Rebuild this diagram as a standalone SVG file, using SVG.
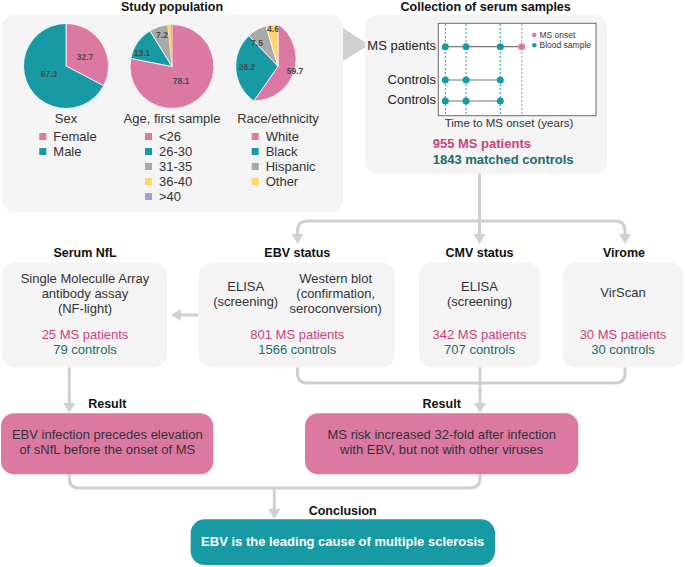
<svg xmlns="http://www.w3.org/2000/svg" width="685" height="567" viewBox="0 0 685 567">
<defs>
<style>
text{font-family:"Liberation Sans",Arial,sans-serif;fill:#222;}
.t{font-size:12.5px;font-weight:bold;text-anchor:middle;fill:#111;}
.b{font-size:13px;text-anchor:middle;fill:#333;}
.l{font-size:13px;fill:#333;}
.r{font-size:13px;text-anchor:end;fill:#222;}
.pk{fill:#c9437c;}
.tl{fill:#1d6b6c;}
.pl{font-size:8.5px;font-weight:bold;text-anchor:middle;fill:#4a4a4a;}
.sm{font-size:8.5px;fill:#333;}
.panel{fill:#f4f4f4;}
.res{fill:#dc79a3;}
.cP{fill:#dc79a3;}
.cT{fill:#179aa3;}
.cG{fill:#a9a9a9;}
.cY{fill:#fdd66b;}
.cV{fill:#9ea2d4;}
.sl{stroke:#fff;stroke-width:0.8;}
.con{fill:none;stroke:#d0d0d0;stroke-width:3;}
.dT{stroke:#179aa3;stroke-width:1;stroke-dasharray:2 2;}
.dP{stroke:#dc79a3;stroke-width:1;stroke-dasharray:2 2;}
</style>
<marker id="ah" markerUnits="userSpaceOnUse" markerWidth="12" markerHeight="12" viewBox="0 0 10 12" refX="1" refY="6" orient="auto">
<path d="M0,0 L10,6 L0,12 z" fill="#d0d0d0"/>
</marker>
</defs>
<rect width="685" height="567" fill="#fff"/>

<g id="connectors">
<polygon points="343,28 369,45 343,61" fill="#d0d0d0"/>
<path class="con" d="M479.5,174 V235" marker-end="url(#ah)"/>
<path class="con" d="M479.5,221 H307.5 Q297.5,221 297.5,231 V235" marker-end="url(#ah)"/>
<path class="con" d="M479.5,221 H615 Q625,221 625,231 V235" marker-end="url(#ah)"/>
<path class="con" d="M198,315 H180" marker-end="url(#ah)"/>
<path class="con" d="M69.3,367 V404" marker-end="url(#ah)"/>
<path class="con" d="M297.5,367 V373 Q297.5,383 307.5,383 H615 Q625,383 625,373 V367"/>
<path class="con" d="M480,367 V404" marker-end="url(#ah)"/>
<path class="con" d="M69.3,474 V478 Q69.3,488 79.3,488 H470 Q480,488 480,478 V474"/>
<path class="con" d="M274.3,488 V510" marker-end="url(#ah)"/>
</g>

<g id="study-population">
<text class="t" x="172" y="11">Study population</text>
<rect class="panel" x="2" y="15" width="341" height="197" rx="13"/>
<g id="pie-sex">
<path class="cP sl" d="M66,66 L66,23.5 A42.5,42.5 0 0 1 103.63,85.77 Z"/>
<path class="cT sl" d="M66,66 L103.63,85.77 A42.5,42.5 0 1 1 66,23.5 Z"/>
<text class="pl" x="85" y="60">32.7</text>
<text class="pl" x="49" y="77">67.3</text>
<text class="b" x="66" y="122.5">Sex</text>
<rect class="cP" x="39.3" y="133" width="7" height="7"/>
<text class="l" x="53.3" y="141">Female</text>
<rect class="cT" x="39.3" y="148" width="7" height="7"/>
<text class="l" x="53.3" y="156">Male</text>
</g>
<g id="pie-age">
<path class="cP sl" d="M172,66.5 L172,24.5 A42,42 0 1 1 130.79,58.37 Z"/>
<path class="cT sl" d="M172,66.5 L130.79,58.37 A42,42 0 0 1 149.95,30.75 Z"/>
<path class="cG sl" d="M172,66.5 L149.95,30.75 A42,42 0 0 1 167.78,24.71 Z"/>
<path class="cY" d="M172,66.5 L167.78,24.71 A42,42 0 0 1 171.21,24.51 Z"/>
<path class="cV" d="M172,66.5 L171.21,24.51 A42,42 0 0 1 172,24.5 Z"/>
<text class="pl" x="181" y="84">78.1</text>
<text class="pl" x="142" y="56">13.1</text>
<text class="pl" x="162" y="38">7.2</text>
<text class="b" x="172" y="122.5">Age, first sample</text>
<rect class="cP" x="145" y="133" width="7" height="7"/>
<text class="l" x="159" y="141">&lt;26</text>
<rect class="cT" x="145" y="148" width="7" height="7"/>
<text class="l" x="159" y="156">26-30</text>
<rect class="cG" x="145" y="163" width="7" height="7"/>
<text class="l" x="159" y="171">31-35</text>
<rect class="cY" x="145" y="178" width="7" height="7"/>
<text class="l" x="159" y="186">36-40</text>
<rect class="cV" x="145" y="193" width="7" height="7"/>
<text class="l" x="159" y="201">&gt;40</text>
</g>
<g id="pie-race">
<path class="cP sl" d="M278,66.3 L278,24 A42.3,42.3 0 0 1 253.78,100.98 Z"/>
<path class="cT sl" d="M278,66.3 L253.78,100.98 A42.3,42.3 0 0 1 248.86,35.64 Z"/>
<path class="cG sl" d="M278,66.3 L248.86,35.64 A42.3,42.3 0 0 1 265.94,25.76 Z"/>
<path class="cY sl" d="M278,66.3 L265.94,25.76 A42.3,42.3 0 0 1 278,24 Z"/>
<text class="pl" x="295" y="74">59.7</text>
<text class="pl" x="247" y="70">28.2</text>
<text class="pl" x="257" y="46">7.5</text>
<text class="pl" x="273" y="32">4.6</text>
<text class="b" x="278" y="122.5">Race/ethnicity</text>
<rect class="cP" x="251.7" y="133" width="7" height="7"/>
<text class="l" x="265.7" y="141">White</text>
<rect class="cT" x="251.7" y="148" width="7" height="7"/>
<text class="l" x="265.7" y="156">Black</text>
<rect class="cG" x="251.7" y="163" width="7" height="7"/>
<text class="l" x="265.7" y="171">Hispanic</text>
<rect class="cY" x="251.7" y="178" width="7" height="7"/>
<text class="l" x="265.7" y="186">Other</text>
</g>
</g>

<g id="collection">
<text class="t" x="485.7" y="11">Collection of serum samples</text>
<rect class="panel" x="365" y="15" width="242" height="159" rx="13"/>
<rect x="438.3" y="23.3" width="157.7" height="92.4" fill="#fff" stroke="#6a6a6a" stroke-width="1"/>
<line class="dT" x1="445.3" y1="24" x2="445.3" y2="115"/>
<line class="dT" x1="466" y1="24" x2="466" y2="115"/>
<line class="dT" x1="500.3" y1="24" x2="500.3" y2="115"/>
<line class="dP" x1="521.7" y1="24" x2="521.7" y2="115"/>
<line x1="445.3" y1="46.7" x2="521.7" y2="46.7" stroke="#777" stroke-width="1.2"/>
<line x1="445.3" y1="80" x2="500.3" y2="80" stroke="#777" stroke-width="1.2"/>
<line x1="445.3" y1="101" x2="500.3" y2="101" stroke="#777" stroke-width="1.2"/>
<circle class="cT" cx="445.3" cy="46.7" r="3.5"/>
<circle class="cT" cx="466" cy="46.7" r="3.5"/>
<circle class="cT" cx="500.3" cy="46.7" r="3.5"/>
<circle class="cP" cx="521.7" cy="46.7" r="3.5"/>
<circle class="cT" cx="445.3" cy="80" r="3.5"/>
<circle class="cT" cx="466" cy="80" r="3.5"/>
<circle class="cT" cx="500.3" cy="80" r="3.5"/>
<circle class="cT" cx="445.3" cy="101" r="3.5"/>
<circle class="cT" cx="466" cy="101" r="3.5"/>
<circle class="cT" cx="500.3" cy="101" r="3.5"/>
<circle class="cP" cx="534.3" cy="35" r="2.3"/>
<text class="sm" x="539.5" y="38">MS  onset</text>
<circle class="cT" cx="534.3" cy="45.3" r="2.3"/>
<text class="sm" x="539.5" y="48.3">Blood sample</text>
<text class="r" x="436" y="49.5">MS patients</text>
<text class="r" x="436" y="83.5">Controls</text>
<text class="r" x="436" y="104">Controls</text>
<text class="b" x="509" y="127" style="font-size:11.5px">Time to MS onset (years)</text>
<text class="l pk" x="432.7" y="148" style="font-weight:bold">955 MS patients</text>
<text class="l tl" x="432.7" y="163.5" style="font-weight:bold">1843 matched controls</text>
</g>

<g id="serum-nfl">
<text class="t" x="85" y="256.5">Serum NfL</text>
<rect class="panel" x="2" y="262.5" width="165" height="105" rx="13"/>
<text class="b" x="85" y="283.3">Single Moleculle Array</text>
<text class="b" x="85" y="298.3">antibody assay</text>
<text class="b" x="85" y="313.3">(NF-light)</text>
<text class="b pk" x="85" y="339">25 MS patients</text>
<text class="b tl" x="85" y="354">79 controls</text>
</g>

<g id="ebv-status">
<text class="t" x="297.3" y="256.5">EBV status</text>
<rect class="panel" x="198.5" y="262.5" width="196.5" height="105" rx="13"/>
<text class="b" x="245.7" y="290.7">ELISA</text>
<text class="b" x="245.7" y="305.5">(screening)</text>
<text class="b" x="335.7" y="282.7">Western blot</text>
<text class="b" x="335.7" y="297.7">(confirmation,</text>
<text class="b" x="335.7" y="312.5">seroconversion)</text>
<text class="b pk" x="297.3" y="339">801 MS patients</text>
<text class="b tl" x="297.3" y="354">1566 controls</text>
</g>

<g id="cmv-status">
<text class="t" x="479.5" y="256.5">CMV status</text>
<rect class="panel" x="419" y="262.5" width="121" height="105" rx="13"/>
<text class="b" x="479.5" y="290.7">ELISA</text>
<text class="b" x="479.5" y="305.5">(screening)</text>
<text class="b pk" x="479.5" y="339">342 MS patients</text>
<text class="b tl" x="479.5" y="354">707 controls</text>
</g>

<g id="virome">
<text class="t" x="624" y="256.5">Virome</text>
<rect class="panel" x="562.7" y="262.5" width="120.6" height="105" rx="13"/>
<text class="b" x="623" y="296.7">VirScan</text>
<text class="b pk" x="623" y="339">30 MS patients</text>
<text class="b tl" x="623" y="354">30 controls</text>
</g>

<g id="result-nfl">
<text class="t" x="107.3" y="408.3">Result</text>
<rect class="res" x="1" y="413.3" width="212.3" height="61" rx="13"/>
<text class="b" x="107.3" y="439.3">EBV infection precedes elevation</text>
<text class="b" x="107.3" y="454.3">of sNfL before the onset of MS</text>
</g>

<g id="result-risk">
<text class="t" x="441.7" y="408.3">Result</text>
<rect class="res" x="305" y="413.3" width="273.3" height="61" rx="13"/>
<text class="b" x="441.7" y="439.3">MS risk increased 32-fold after infection</text>
<text class="b" x="441.7" y="454.3">with EBV, but not with other viruses</text>
</g>

<g id="conclusion">
<text class="t" x="342.7" y="515">Conclusion</text>
<rect x="190.7" y="519.3" width="304.3" height="45.7" rx="14" fill="#179aa3"/>
<text class="t" x="342.7" y="545.7" style="fill:#fff;font-size:13px">EBV is the leading cause of multiple sclerosis</text>
</g>
</svg>
